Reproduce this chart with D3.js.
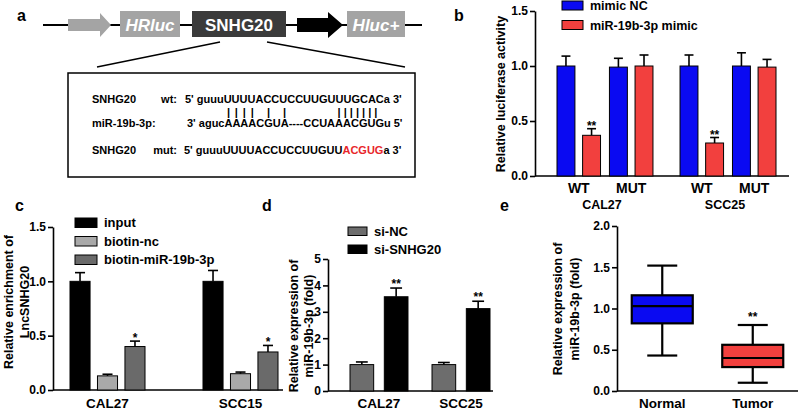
<!DOCTYPE html>
<html>
<head>
<meta charset="utf-8">
<script src="https://cdn.jsdelivr.net/npm/d3@7"></script>
<style>
body { margin: 0; background: #fff; }
svg { display: block; font-family: "Liberation Sans", Arial, sans-serif; font-weight: bold; }
</style>
</head>
<body>
<script>
// ---- panel a: reporter construct + binding site
var constructParts = ["HRluc", "SNHG20", "Hluc+"];
var seqNames = ["SNHG20", "miR-19b-3p:", "SNHG20"];
var seqTags = ["wt:", "", "mut:"];
var seqWt = "5' guuuUUUUACCUCCUUGUUUGCACa 3'";
var seqMir = "3' agucAAAACGUA----CCUAAACGUGu 5'";
var seqMut = ["5' guuuUUUUACCUCCUUGUU", "ACGUG", "a 3'"];
var pairChars = [7, 8, 9, 10, 12, 14];   // miR chars with a single pair mark
var pairRunStart = 23, pairRunCount = 7;

// ---- panel b: luciferase
var lucLines = ["CAL27", "SCC25"];
var lucTypes = ["WT", "MUT"];
var lucSeries = ["mimic NC", "miR-19b-3p mimic"];
var lucNC = [1.0, 0.99, 1.0, 1.0];
var lucNCErr = [0.09, 0.08, 0.10, 0.12];
var lucMimic = [0.37, 1.0, 0.30, 0.99];
var lucMimicErr = [0.06, 0.10, 0.05, 0.07];
var lucSig = ["**", "", "**", ""];
var lucTicks = [0, 0.5, 1.0, 1.5];

// ---- panel c: RNA pull-down
var ripLines = ["CAL27", "SCC15"];
var ripSeries = ["input", "biotin-nc", "biotin-miR-19b-3p"];
var ripInput = [1.0, 1.0];
var ripInputErr = [0.08, 0.10];
var ripNc = [0.13, 0.15];
var ripNcErr = [0.015, 0.015];
var ripMir = [0.40, 0.35];
var ripMirErr = [0.05, 0.06];
var ripSig = ["*", "*"];
var ripTicks = [0, 0.5, 1.0, 1.5];

// ---- panel d: knockdown qPCR
var kdLines = ["CAL27", "SCC25"];
var kdSeries = ["si-NC", "si-SNHG20"];
var kdNC = [1.0, 1.0];
var kdNCErr = [0.10, 0.08];
var kdSi = [3.57, 3.12];
var kdSiErr = [0.33, 0.28];
var kdSig = ["**", "**"];
var kdTicks = [0, 1, 2, 3, 4, 5];

// ---- panel e: tissue box plot
var boxGroups = ["Normal", "Tumor"];
var boxMin = [0.43, 0.10];
var boxQ1 = [0.82, 0.29];
var boxMed = [1.03, 0.40];
var boxQ3 = [1.16, 0.56];
var boxMax = [1.52, 0.80];
var boxSig = ["", "**"];
var boxTicks = [0, 0.5, 1.0, 1.5, 2.0];

var BLUE = "#0a0af2", RED = "#f2403e";

var svg = d3.select("body").append("svg").attr("width", 800).attr("height", 411);

function panelLabel(t, x, y) {
    svg.append("text").attr("x", x).attr("y", y).attr("font-size", 16).text(t);
}

function yAxis(scale, x, ticks, fmt) {
    var g = svg.append("g").attr("transform", "translate(" + x + ",0)")
        .call(d3.axisLeft(scale).tickValues(ticks).tickFormat(fmt).tickSize(5).tickSizeOuter(0));
    g.attr("font-family", null).attr("font-size", 12);
    g.select(".domain").attr("stroke-width", 1.6);
    g.selectAll(".tick line").attr("stroke-width", 1.6);
    g.selectAll(".tick text").attr("x", -7).attr("fill", "#000");
    return g;
}

function xLine(x1, x2, y) {
    svg.append("line").attr("x1", x1).attr("x2", x2).attr("y1", y).attr("y2", y)
        .attr("stroke", "#000").attr("stroke-width", 1.6);
}

function yTitle(lines, cx, cy, gap) {
    var t = svg.append("text").attr("transform", "translate(" + cx + "," + cy + ") rotate(-90)")
        .attr("text-anchor", "middle").attr("font-size", 12.5);
    lines.forEach(function(l, i) {
        t.append("tspan").attr("x", 0).attr("y", (i - (lines.length - 1) / 2) * gap + 4.5).text(l);
    });
}

function barWithErr(x, w, y, v, e, fill) {
    svg.append("rect").attr("x", x).attr("y", y(v)).attr("width", w).attr("height", y(0) - y(v))
        .attr("fill", fill).attr("stroke", "#000").attr("stroke-width", 1);
    var cx = x + w / 2;
    svg.append("line").attr("x1", cx).attr("x2", cx).attr("y1", y(v)).attr("y2", y(v + e))
        .attr("stroke", "#000").attr("stroke-width", 1.6);
    svg.append("line").attr("x1", cx - w * 0.25).attr("x2", cx + w * 0.25).attr("y1", y(v + e)).attr("y2", y(v + e))
        .attr("stroke", "#000").attr("stroke-width", 1.6);
}

function star(t, cx, base) {
    if (!t) return;
    svg.append("text").attr("x", cx).attr("y", base).attr("text-anchor", "middle")
        .attr("font-size", 12).text(t);
}

function legend(items, colors, x, y0, dy, w, h, fs) {
    items.forEach(function(it, i) {
        var y = y0 + i * dy;
        svg.append("rect").attr("x", x).attr("y", y).attr("width", w).attr("height", h)
            .attr("fill", colors[i]).attr("stroke", "#000").attr("stroke-width", 1);
        svg.append("text").attr("x", x + w + 7).attr("y", y + h / 2 + fs * 0.36)
            .attr("font-size", fs).text(it);
    });
}

// ================= panel a
panelLabel("a", 17, 21);
svg.append("line").attr("x1", 43).attr("x2", 422).attr("y1", 25).attr("y2", 25)
    .attr("stroke", "#000").attr("stroke-width", 2);
svg.append("path").attr("d", "M68,19H100V13L111,25L100,37V31H68Z").attr("fill", "#a4a4a4");
svg.append("path").attr("d", "M297,18H328V12L343,25L328,38V32H297Z").attr("fill", "#000");
var partBoxes = [[120, 180, "#a4a4a4", true], [192, 286, "#3b3b3b", false], [347, 405, "#a4a4a4", true]];
constructParts.forEach(function(p, i) {
    var b = partBoxes[i];
    svg.append("rect").attr("x", b[0]).attr("y", 11).attr("width", b[1] - b[0]).attr("height", 26).attr("fill", b[2]);
    svg.append("text").attr("x", (b[0] + b[1]) / 2).attr("y", 30.5).attr("text-anchor", "middle")
        .attr("fill", "#fff").attr("font-size", 17).attr("font-style", b[3] ? "italic" : null).text(p);
});
svg.append("line").attr("x1", 220).attr("y1", 42).attr("x2", 97).attr("y2", 67).attr("stroke", "#000").attr("stroke-width", 1.4);
svg.append("line").attr("x1", 267).attr("y1", 42).attr("x2", 405).attr("y2", 67).attr("stroke", "#000").attr("stroke-width", 1.4);
svg.append("rect").attr("x", 68).attr("y", 73).attr("width", 347).attr("height", 104)
    .attr("fill", "none").attr("stroke", "#000").attr("stroke-width", 1.5);

var rowY = [103, 127, 154];
seqNames.forEach(function(n, i) {
    svg.append("text").attr("x", 92).attr("y", rowY[i]).attr("font-size", 11).text(n);
    if (seqTags[i]) svg.append("text").attr("x", 177).attr("y", rowY[i]).attr("text-anchor", "end").attr("font-size", 11).text(seqTags[i]);
});
svg.append("text").attr("x", 185).attr("y", rowY[0]).attr("font-size", 11).text(seqWt);
var mirText = svg.append("text").attr("x", 187).attr("y", rowY[1]).attr("font-size", 11).text(seqMir);
var mutText = svg.append("text").attr("x", 184).attr("y", rowY[2]).attr("font-size", 11);
seqMut.forEach(function(s, i) {
    mutText.append("tspan").attr("fill", i == 1 ? "#e8262b" : "#000").text(s);
});
// pairing marks sit over the miR characters
var mirNode = mirText.node();
function charCenter(i) {
    var r = mirNode.getExtentOfChar(i);
    return r.x + r.width / 2;
}
pairChars.forEach(function(i) {
    svg.append("text").attr("x", charCenter(i)).attr("y", 116).attr("text-anchor", "middle")
        .attr("font-size", 11).text("|");
});
var run = d3.range(pairRunCount).map(function() { return "|"; }).join(" ");
svg.append("text").attr("x", charCenter(pairRunStart) - 1.5).attr("y", 116).attr("font-size", 11).text(run);

// ================= panel b
panelLabel("b", 454, 21);
var yb = d3.scaleLinear().domain([0, 1.5]).range([176, 11]);
var xb0 = d3.scaleBand().domain(lucLines).range([557, 776]).paddingInner(0.22);
var xb1 = d3.scaleBand().domain(lucTypes).range([0, xb0.bandwidth()]).paddingInner(0.17);
var xb2 = d3.scaleBand().domain(lucSeries).range([0, xb1.bandwidth()]).paddingInner(0.3);
yAxis(yb, 535, lucTicks, d3.format(".1f"));
xLine(535, 789, 176);
yTitle(["Relative luciferase activity"], 500, 94, 15);
lucNC.forEach(function(v, i) {
    var gx = xb0(lucLines[Math.floor(i / 2)]) + xb1(lucTypes[i % 2]);
    barWithErr(gx + xb2(lucSeries[0]), xb2.bandwidth(), yb, v, lucNCErr[i], BLUE);
    barWithErr(gx + xb2(lucSeries[1]), xb2.bandwidth(), yb, lucMimic[i], lucMimicErr[i], RED);
    star(lucSig[i], gx + xb2(lucSeries[1]) + xb2.bandwidth() / 2, yb(lucMimic[i] + lucMimicErr[i]) + 1);
    svg.append("text").attr("x", gx + xb1.bandwidth() / 2).attr("y", 193).attr("text-anchor", "middle")
        .attr("font-size", 14).text(lucTypes[i % 2]);
});
lucLines.forEach(function(l) {
    svg.append("text").attr("x", xb0(l) + xb0.bandwidth() / 2 - 3).attr("y", 209).attr("text-anchor", "middle")
        .attr("font-size", 12.5).text(l);
});
legend(lucSeries, [BLUE, RED], 562, 1, 19.5, 21, 9, 12.5);

// ================= panel c
panelLabel("c", 15, 211);
var yc = d3.scaleLinear().domain([0, 1.5]).range([390, 227]);
var xc0 = d3.scaleBand().domain(ripLines).range([70, 278]).paddingInner(0.436);
var xc1 = d3.scaleBand().domain(ripSeries).range([0, xc0.bandwidth()]).paddingInner(0.27);
var ripVals = [ripInput, ripNc, ripMir], ripErrs = [ripInputErr, ripNcErr, ripMirErr];
var ripColors = ["#000", "#a9a9a9", "#6a6a6a"];
yAxis(yc, 53, ripTicks, d3.format(".1f"));
xLine(53, 283, 390);
yTitle(["Relative enrichment of", "LncSNHG20"], 16, 302, 16);
ripLines.forEach(function(l, i) {
    ripSeries.forEach(function(s, j) {
        barWithErr(xc0(l) + xc1(s), xc1.bandwidth(), yc, ripVals[j][i], ripErrs[j][i], ripColors[j]);
    });
    star(ripSig[i], xc0(l) + xc1(ripSeries[2]) + xc1.bandwidth() / 2, yc(ripMir[i] + ripMirErr[i]) + 1);
    svg.append("text").attr("x", xc0(l) + xc0.bandwidth() / 2).attr("y", 408).attr("text-anchor", "middle")
        .attr("font-size", 13.5).text(l);
});
legend(ripSeries, ripColors, 75, 218, 18.5, 22, 9.5, 13);

// ================= panel d
panelLabel("d", 262, 211);
var yd = d3.scaleLinear().domain([0, 5]).range([391, 259]);
var xd0 = d3.scaleBand().domain(kdLines).range([350, 490]).paddingInner(0.293);
var xd1 = d3.scaleBand().domain(kdSeries).range([0, xd0.bandwidth()]).paddingInner(0.31);
var kdColors = ["#6d6d6d", "#000"];
yAxis(yd, 328, kdTicks, d3.format("d"));
xLine(328, 493, 391);
yTitle(["Relative expression of", "miR-19b-3p (fold)"], 301, 326, 15);
kdLines.forEach(function(l, i) {
    barWithErr(xd0(l) + xd1(kdSeries[0]), xd1.bandwidth(), yd, kdNC[i], kdNCErr[i], kdColors[0]);
    barWithErr(xd0(l) + xd1(kdSeries[1]), xd1.bandwidth(), yd, kdSi[i], kdSiErr[i], kdColors[1]);
    star(kdSig[i], xd0(l) + xd1(kdSeries[1]) + xd1.bandwidth() / 2, yd(kdSi[i] + kdSiErr[i]) + 0);
    svg.append("text").attr("x", xd0(l) + xd0.bandwidth() / 2).attr("y", 408).attr("text-anchor", "middle")
        .attr("font-size", 13.5).text(l);
});
legend(kdSeries, kdColors, 348, 227, 18, 19, 8.5, 13);

// ================= panel e
panelLabel("e", 500, 211);
var ye = d3.scaleLinear().domain([0, 2]).range([391, 226]);
var xe = d3.scalePoint().domain(boxGroups).range([617, 798]).padding(0.5);
var boxW = 61, capW = 30;
yAxis(ye, 617, boxTicks, d3.format(".1f"));
xLine(617, 798, 391);
yTitle(["Relative expression of", "miR-19b-3p (fold)"], 566, 309, 17);
boxGroups.forEach(function(g, i) {
    var cx = xe(g);
    var st = function(sel) { return sel.attr("stroke", "#000").attr("stroke-width", 2.2); };
    st(svg.append("line").attr("x1", cx).attr("x2", cx).attr("y1", ye(boxMax[i])).attr("y2", ye(boxMin[i])));
    st(svg.append("line").attr("x1", cx - capW / 2).attr("x2", cx + capW / 2).attr("y1", ye(boxMax[i])).attr("y2", ye(boxMax[i])));
    st(svg.append("line").attr("x1", cx - capW / 2).attr("x2", cx + capW / 2).attr("y1", ye(boxMin[i])).attr("y2", ye(boxMin[i])));
    st(svg.append("rect").attr("x", cx - boxW / 2).attr("y", ye(boxQ3[i])).attr("width", boxW)
        .attr("height", ye(boxQ1[i]) - ye(boxQ3[i])).attr("fill", i == 0 ? BLUE : RED));
    st(svg.append("line").attr("x1", cx - boxW / 2).attr("x2", cx + boxW / 2).attr("y1", ye(boxMed[i])).attr("y2", ye(boxMed[i])));
    star(boxSig[i], cx, ye(boxMax[i]) - 4);
    svg.append("text").attr("x", cx).attr("y", 408).attr("text-anchor", "middle").attr("font-size", 13.5).text(g);
});
</script>
</body>
</html>
